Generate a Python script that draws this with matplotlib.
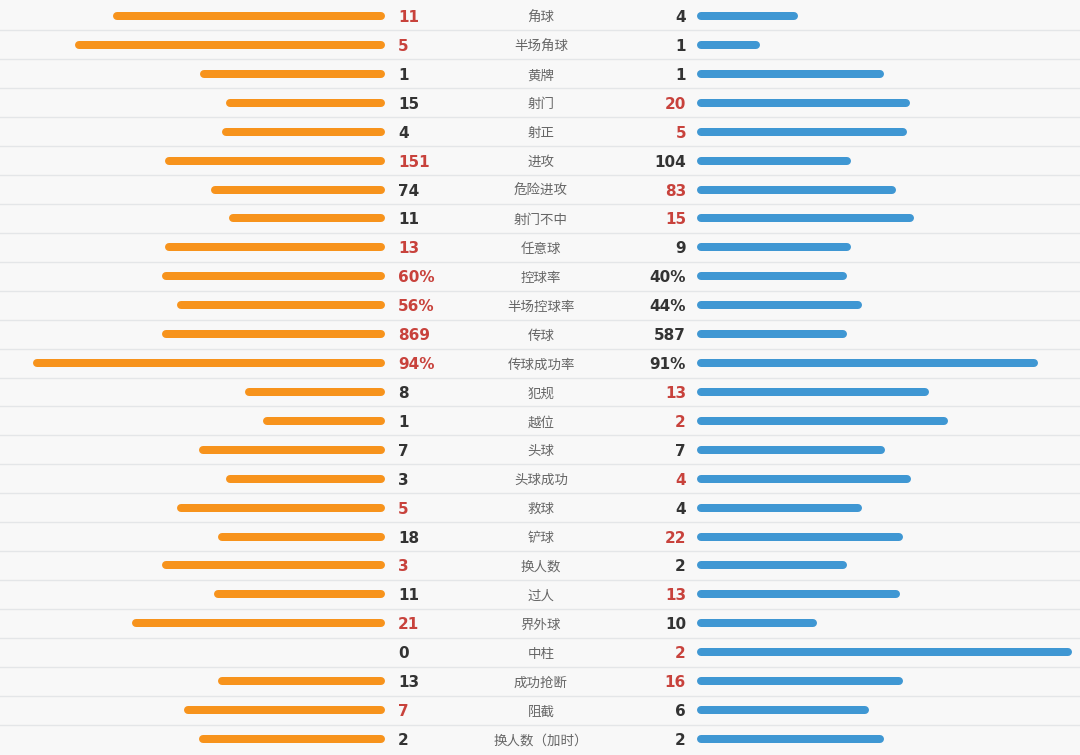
import numpy as np
import matplotlib; matplotlib.use("Agg"); import matplotlib.pyplot as plt

# ---- data ----
labels=["角球","半场角球","黄牌","射门","射正","进攻","危险进攻","射门不中","任意球","控球率",
        "半场控球率","传球","传球成功率","犯规","越位","头球","头球成功","救球","铲球","换人数",
        "过人","界外球","中柱","成功抢断","阻截","换人数（加时）"]
home=[11,5,1,15,4,151,74,11,13,60,56,869,94,8,1,7,3,5,18,3,11,21,0,13,7,2]
away=[4,1,1,20,5,104,83,15,9,40,44,587,91,13,2,7,4,4,22,2,13,10,2,16,6,2]
pct=[False]*9+[True,True,False,True]+[False]*13
# bar lengths (px, as drawn in the source graphic, not proportional to the values)
home_len=[272,310,185,159,163,220,174,156,220,223,208,223,352,140,122,186,159,208,167,223,171,253,0,167,201,186]
away_len=[101,63,187,213,210,154,199,217,154,150,165,150,341,232,251,188,214,165,206,150,203,120,375,206,172,187]

ORANGE="#f7931c"; BLUE="#3f97d3"; RED="#c8423c"; DARK="#333333"; GREY="#666666"
BG="#f8f8f8"; SEP="#e4e6e8"
X_H=385; X_B=697        # inner ends of the orange / blue bars
X_HV=398; X_AV=686; X_LB=541
LW=8*0.72; CAP=4         # 8 px thick, round caps stick out half the width

fig=plt.figure(figsize=(10.8,7.55),dpi=100,facecolor=BG)
ax=fig.add_axes([0,0,1,1]); ax.set_facecolor(BG)
n=len(labels); dy=28.92; y0=16
ax.set_xlim(0,1080); ax.set_ylim((755-y0)/dy,-y0/dy); ax.axis("off")
for i in range(n-1): ax.axhline(i+0.5,color=SEP,lw=1)
for i in range(n):
    if home_len[i]>0:
        ax.plot([X_H-home_len[i]+CAP,X_H-CAP],[i,i],color=ORANGE,lw=LW,solid_capstyle="round")
    if away_len[i]>0:
        ax.plot([X_B+CAP,X_B+away_len[i]-CAP],[i,i],color=BLUE,lw=LW,solid_capstyle="round")
    sfx="%" if pct[i] else ""
    ch=RED if home[i]>away[i] else DARK; ca=RED if away[i]>home[i] else DARK
    ax.text(X_HV,i,f"{home[i]}{sfx}",ha="left",va="center_baseline",color=ch,fontsize=11,fontweight="bold",family="DejaVu Sans")
    ax.text(X_AV,i,f"{away[i]}{sfx}",ha="right",va="center_baseline",color=ca,fontsize=11,fontweight="bold",family="DejaVu Sans")
    ax.text(X_LB,i,labels[i],ha="center",va="center_baseline",color=GREY,fontsize=9.7,family=["Noto Sans CJK SC","DejaVu Sans"])
fig.savefig("out.png",dpi=100,facecolor=BG)
